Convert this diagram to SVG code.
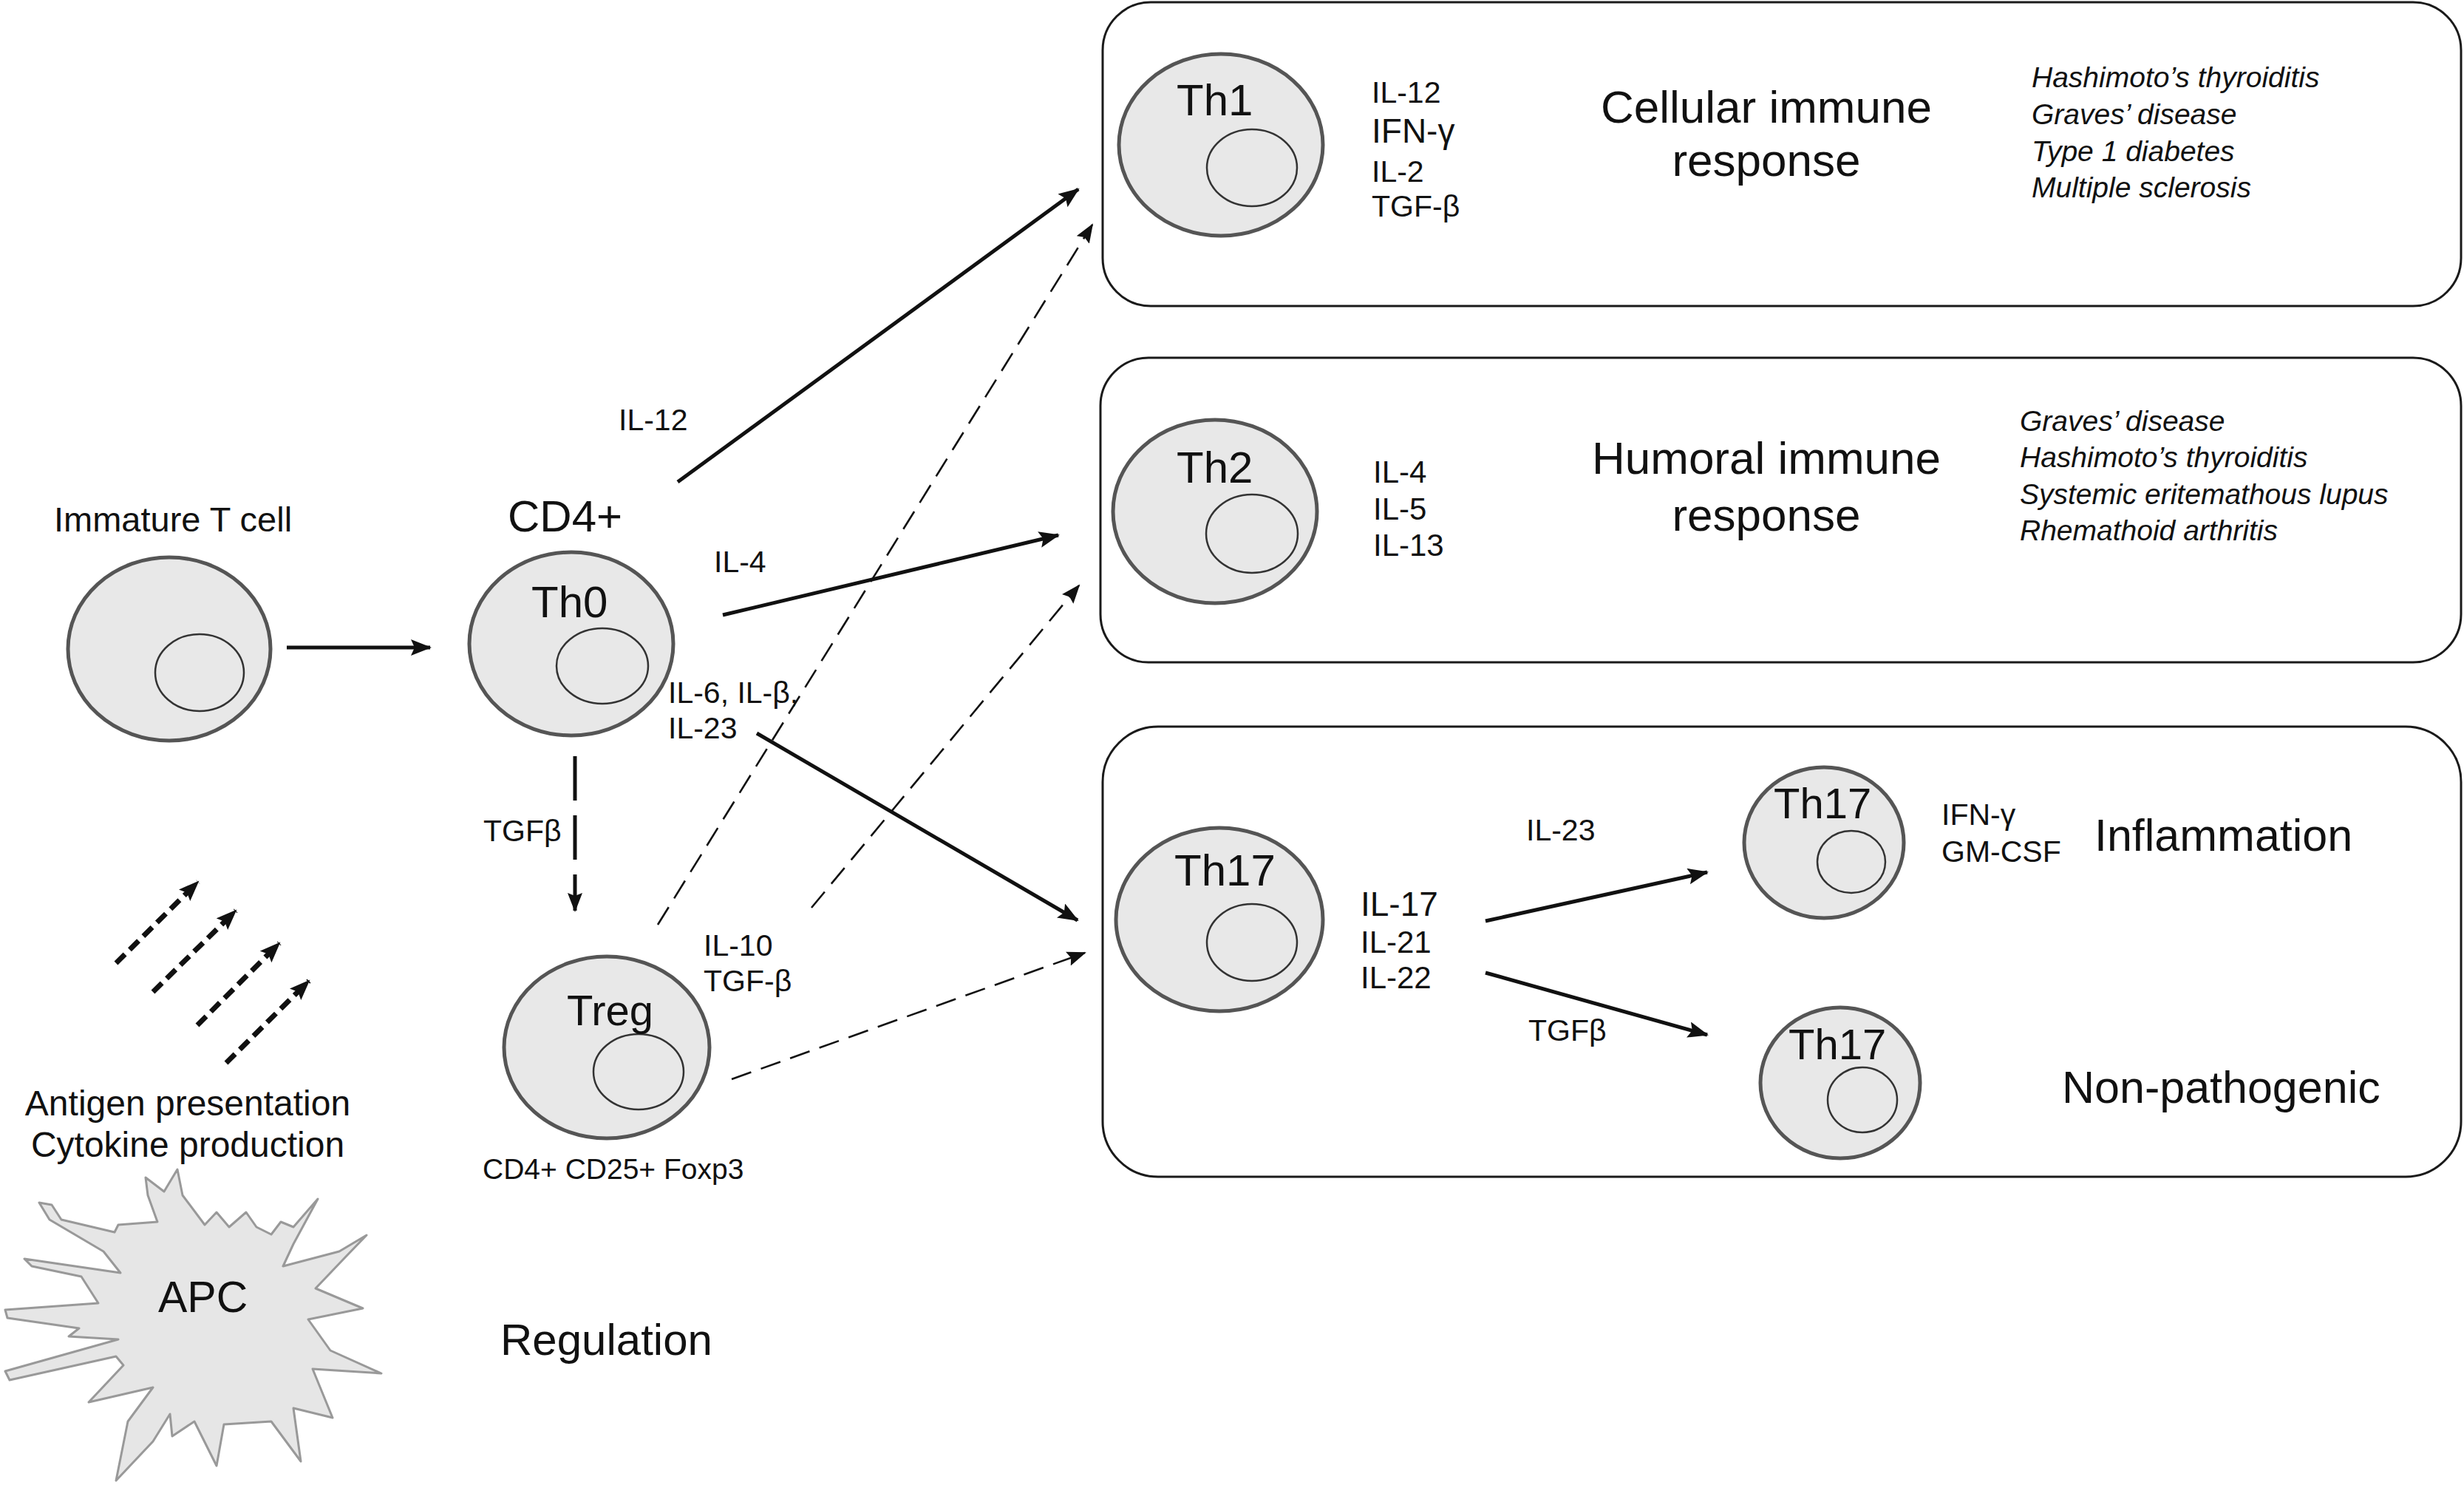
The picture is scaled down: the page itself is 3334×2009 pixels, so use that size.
<svg xmlns="http://www.w3.org/2000/svg" width="3334" height="2009" viewBox="0 0 3334 2009">
<defs>
<style>
.cell{fill:#e8e8e8;stroke:#555;stroke-width:5}
.nuc{fill:none;stroke:#333;stroke-width:2.5}
.box{fill:#fff;stroke:#1a1a1a;stroke-width:3}
.t{font-family:"Liberation Sans",Arial,Helvetica,sans-serif;fill:#111}
.it{font-family:"Liberation Sans",Arial,Helvetica,sans-serif;font-style:italic;fill:#111}
.solid{stroke:#111;stroke-width:5;fill:none}
.thin{stroke:#111;stroke-width:2.6;fill:none;stroke-dasharray:28 14}
.vdash{stroke:#111;stroke-width:5;fill:none;stroke-dasharray:60 20}
.adash{stroke:#111;stroke-width:7;fill:none;stroke-dasharray:17 9}
</style>
<marker id="ah" markerUnits="userSpaceOnUse" markerWidth="30" markerHeight="24" refX="26" refY="11" orient="auto">
<path d="M0,0 L28,11 L0,22 L5,11 Z" fill="#111"/>
</marker>
<marker id="ahs" markerUnits="userSpaceOnUse" markerWidth="30" markerHeight="24" refX="24" refY="10" orient="auto">
<path d="M0,0 L26,10 L0,20 L4,10 Z" fill="#111"/>
</marker>
</defs>
<rect width="3334" height="2009" fill="#fff"/>

<g id="box-th1">
<rect class="box" x="1492" y="3" width="1838" height="411" rx="65" ry="65"/>
</g>
<g id="box-th2">
<rect class="box" x="1489" y="484" width="1841" height="412" rx="65" ry="65"/>
</g>
<g id="box-th17">
<rect class="box" x="1492" y="983" width="1838" height="609" rx="75" ry="75"/>
</g>

<g id="connectors">
<line class="solid" x1="388" y1="876" x2="582" y2="876" marker-end="url(#ah)"/>
<line class="solid" x1="917" y1="652" x2="1459" y2="256" marker-end="url(#ah)"/>
<line class="solid" x1="978" y1="832" x2="1432" y2="724" marker-end="url(#ah)"/>
<line class="solid" x1="1024" y1="992" x2="1458" y2="1245" marker-end="url(#ah)"/>
<line class="vdash" x1="778" y1="1023" x2="778" y2="1232" marker-end="url(#ahs)"/>
<line class="thin" x1="890" y1="1251" x2="1478" y2="304" marker-end="url(#ahs)"/>
<line class="thin" x1="1098" y1="1228" x2="1460" y2="792" marker-end="url(#ahs)"/>
<line class="thin" x1="990" y1="1460" x2="1468" y2="1289" marker-end="url(#ahs)"/>
<line class="solid" x1="2010" y1="1246" x2="2310" y2="1180" marker-end="url(#ah)"/>
<line class="solid" x1="2010" y1="1316" x2="2310" y2="1400" marker-end="url(#ah)"/>
<line class="adash" x1="157" y1="1303" x2="268" y2="1193" marker-end="url(#ah)"/>
<line class="adash" x1="207" y1="1342" x2="319" y2="1232" marker-end="url(#ah)"/>
<line class="adash" x1="267" y1="1387" x2="378" y2="1276" marker-end="url(#ah)"/>
<line class="adash" x1="306" y1="1438" x2="418" y2="1327" marker-end="url(#ah)"/>
</g>

<g id="immature">
<text class="t" x="73" y="719" font-size="47">Immature T cell</text>
<ellipse class="cell" cx="229" cy="878" rx="137" ry="124"/>
<ellipse class="nuc" cx="270" cy="910" rx="60" ry="52"/>
</g>

<g id="th0">
<text class="t" x="687" y="719" font-size="60">CD4+</text>
<ellipse class="cell" cx="773" cy="871" rx="138" ry="124"/>
<ellipse class="nuc" cx="815" cy="901" rx="62" ry="51"/>
<text class="t" x="719" y="835" font-size="60">Th0</text>
</g>

<g id="treg">
<ellipse class="cell" cx="821" cy="1417" rx="139" ry="123"/>
<ellipse class="nuc" cx="864" cy="1450" rx="61" ry="51"/>
<text class="t" x="767" y="1387" font-size="58">Treg</text>
<text class="t" x="653" y="1595" font-size="39">CD4+ CD25+ Foxp3</text>
</g>

<g id="apc">
<polygon points="53,1627 70,1630 83,1650 155,1667 160,1657 213,1653 200,1617 197,1593 222,1612 240,1582 247,1617 277,1657 293,1640 310,1660 333,1640 347,1660 367,1670 380,1653 397,1660 430,1622 397,1683 383,1713 459,1693 496,1671 468,1700 427,1743 491,1770 417,1785 447,1827 516,1858 423,1852 450,1918 397,1905 407,1977 367,1923 303,1927 293,1983 263,1923 233,1943 230,1913 207,1950 157,2003 173,1923 207,1877 120,1897 167,1847 157,1835 13,1867 7,1855 160,1812 93,1808 107,1797 10,1783 7,1772 133,1763 110,1727 43,1713 33,1703 163,1722 140,1693 67,1650" fill="#e6e6e6" stroke="#999" stroke-width="3" stroke-linejoin="round"/>
<text class="t" x="214" y="1775" font-size="59">APC</text>
</g>

<g id="labels-left">
<text class="t" x="254" y="1509" font-size="48" text-anchor="middle">Antigen presentation</text>
<text class="t" x="254" y="1565" font-size="48" text-anchor="middle">Cytokine production</text>
<text class="t" x="677" y="1833" font-size="60">Regulation</text>
<text class="t" x="837" y="582" font-size="41">IL-12</text>
<text class="t" x="966" y="774" font-size="41">IL-4</text>
<text class="t" x="904" y="951" font-size="41">IL-6, IL-β,</text>
<text class="t" x="904" y="999" font-size="41">IL-23</text>
<text class="t" x="654" y="1138" font-size="41">TGFβ</text>
<text class="t" x="952" y="1293" font-size="41">IL-10</text>
<text class="t" x="952" y="1341" font-size="41">TGF-β</text>
</g>

<g id="th1">
<ellipse class="cell" cx="1652" cy="196" rx="138" ry="123"/>
<ellipse class="nuc" cx="1694" cy="227" rx="61" ry="52"/>
<text class="t" x="1592" y="156" font-size="60">Th1</text>
<text class="t" x="1856" y="139" font-size="41">IL-12</text>
<text class="t" x="1856" y="193" font-size="46">IFN-γ</text>
<text class="t" x="1856" y="246" font-size="41">IL-2</text>
<text class="t" x="1856" y="293" font-size="41">TGF-β</text>
<text class="t" x="2390" y="166" font-size="62" text-anchor="middle">Cellular immune</text>
<text class="t" x="2390" y="238" font-size="62" text-anchor="middle">response</text>
<text class="it" x="2749" y="118" font-size="39">Hashimoto’s thyroiditis</text>
<text class="it" x="2749" y="168" font-size="39">Graves’ disease</text>
<text class="it" x="2749" y="218" font-size="39">Type 1 diabetes</text>
<text class="it" x="2749" y="267" font-size="39">Multiple sclerosis</text>
</g>

<g id="th2">
<ellipse class="cell" cx="1644" cy="692" rx="138" ry="124"/>
<ellipse class="nuc" cx="1694" cy="722" rx="62" ry="53"/>
<text class="t" x="1592" y="653" font-size="60">Th2</text>
<text class="t" x="1858" y="653" font-size="42">IL-4</text>
<text class="t" x="1858" y="703" font-size="42">IL-5</text>
<text class="t" x="1858" y="752" font-size="42">IL-13</text>
<text class="t" x="2390" y="641" font-size="62" text-anchor="middle">Humoral immune</text>
<text class="t" x="2390" y="718" font-size="62" text-anchor="middle">response</text>
<text class="it" x="2733" y="583" font-size="39">Graves’ disease</text>
<text class="it" x="2733" y="632" font-size="39">Hashimoto’s thyroiditis</text>
<text class="it" x="2733" y="682" font-size="39">Systemic eritemathous lupus</text>
<text class="it" x="2733" y="731" font-size="39">Rhemathoid arthritis</text>
</g>

<g id="th17">
<ellipse class="cell" cx="1650" cy="1244" rx="140" ry="124"/>
<ellipse class="nuc" cx="1694" cy="1275" rx="61" ry="52"/>
<text class="t" x="1589" y="1198" font-size="60">Th17</text>
<text class="t" x="1841" y="1239" font-size="46">IL-17</text>
<text class="t" x="1841" y="1289" font-size="42">IL-21</text>
<text class="t" x="1841" y="1337" font-size="42">IL-22</text>
<text class="t" x="2065" y="1137" font-size="41">IL-23</text>
<text class="t" x="2068" y="1408" font-size="41">TGFβ</text>
</g>

<g id="th17-inflammatory">
<ellipse class="cell" cx="2468" cy="1140" rx="108" ry="102"/>
<ellipse class="nuc" cx="2505" cy="1166" rx="46" ry="42"/>
<text class="t" x="2400" y="1107" font-size="58">Th17</text>
<text class="t" x="2627" y="1116" font-size="41">IFN-γ</text>
<text class="t" x="2627" y="1166" font-size="41">GM-CSF</text>
<text class="t" x="2834" y="1151" font-size="61">Inflammation</text>
</g>

<g id="th17-nonpathogenic">
<ellipse class="cell" cx="2490" cy="1465" rx="108" ry="102"/>
<ellipse class="nuc" cx="2520" cy="1488" rx="47" ry="44"/>
<text class="t" x="2420" y="1433" font-size="58">Th17</text>
<text class="t" x="2790" y="1492" font-size="61">Non-pathogenic</text>
</g>
</svg>
